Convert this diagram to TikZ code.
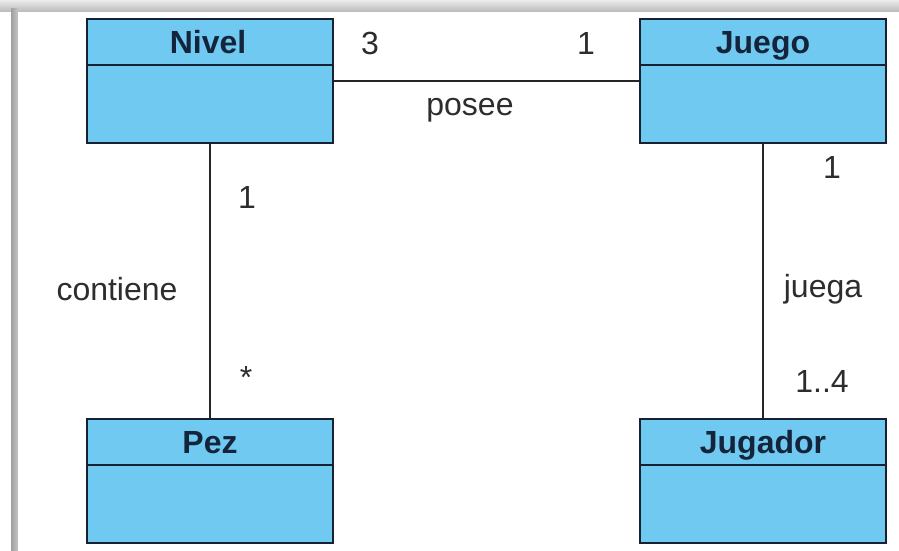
\documentclass[tikz,border=0pt]{standalone}
\usepackage{fontspec}
\setmainfont{Liberation Sans}
\usetikzlibrary{calc}
\definecolor{clsfill}{RGB}{112,201,241}
\definecolor{clsline}{RGB}{22,34,50}
\definecolor{titlecol}{RGB}{20,36,58}
\definecolor{labelcol}{RGB}{45,45,45}
\tikzset{
  cls/.style={draw=clsline, line width=2pt, fill=clsfill, minimum width=246pt, minimum height=124pt, inner sep=0pt},
  clstitle/.style={anchor=base, font=\fontsize{32}{36}\selectfont\bfseries, text=titlecol, inner sep=0pt},
  lbl/.style={anchor=base, font=\fontsize{32}{36}\selectfont, text=labelcol, inner sep=0pt},
  assoc/.style={draw=black!85, line width=2pt},
  divider/.style={draw=clsline, line width=2pt}
}
\begin{document}
\begin{tikzpicture}[x=1pt,y=-1pt]
\useasboundingbox (0,0) rectangle (899,551);
\fill[white] (0,0) rectangle (899,551);
\fill[top color=gray!15, bottom color=gray!55] (0,0) rectangle (899,12);
\fill[left color=gray!75, right color=gray!45] (11,9) rectangle (18,551);
\fill[white] (18,12) rectangle (899,551);

\node[cls] (nivel) at (210,81) {};
\node[cls] (juego) at (763,81) {};
\node[cls] (pez) at (210,481) {};
\node[cls] (jugador) at (763,481) {};

\foreach \n in {nivel,juego,pez,jugador}{
  \draw[divider] ($(\n.north west)+(0,47)$) -- ($(\n.north east)+(0,47)$);
}

\node[clstitle] (tnivel) at (208,54) {Nivel};
\node[clstitle] (tjuego) at (763,53) {Juego};
\node[clstitle] (tpez) at (210,453) {Pez};
\node[clstitle] (tjugador) at (763,453) {Jugador};

\draw[assoc] (nivel.east) -- (juego.west);
\draw[assoc] (nivel.south) -- (pez.north);
\draw[assoc] (juego.south) -- (jugador.north);

\node[lbl] (m3) at (370,55) {3};
\node[lbl] (m1a) at (586,55) {1};
\node[lbl] (posee) at (470,115) {posee};
\node[lbl] (m1b) at (247,208) {1};
\node[lbl] (contiene) at (117,300) {contiene};
\node[lbl] (mstar) at (246,388) {*};
\node[lbl] (m1c) at (832,178) {1};
\node[lbl] (juega) at (823,297) {juega};
\node[lbl] (m14) at (822,392) {1..4};
\end{tikzpicture}
\end{document}
